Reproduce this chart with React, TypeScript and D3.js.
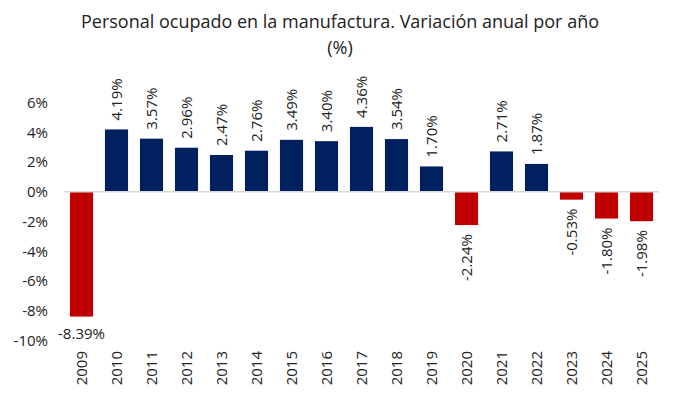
import React, { useEffect } from 'react';
import * as d3 from 'd3';

const years = ['2009', '2010', '2011', '2012', '2013', '2014', '2015', '2016', '2017',
    '2018', '2019', '2020', '2021', '2022', '2023', '2024', '2025'];
const values = [-8.39, 4.19, 3.57, 2.96, 2.47, 2.76, 3.49, 3.40, 4.36, 3.54, 1.70,
    -2.24, 2.71, 1.87, -0.53, -1.80, -1.98];
const yTicks = [6, 4, 2, 0, -2, -4, -6, -8, -10];

const width = 680;
const height = 407;
const font = '"Open Sans", sans-serif';

export default function App() {
    useEffect(() => {
        document.body.style.margin = '0';
    }, []);

    const x = d3.scaleBand().domain(years).range([64, 659]).paddingInner(0.34).paddingOuter(0.17);
    const y = d3.scaleLinear().domain([-10, 6]).range([340.5, 102.5]);
    const fmt = (v: number) => v.toFixed(2) + '%';

    return (
        <svg width={width} height={height} style={{ display: 'block', background: '#fff' }}>
            <text x={340} y={28} textAnchor="middle" fontFamily={font} fontSize={18} fill="#222">
                Personal ocupado en la manufactura. Variación anual por año
            </text>
            <text x={340} y={54} textAnchor="middle" fontFamily={font} fontSize={18} fill="#222">(%)</text>

            {/* y axis labels */}
            {yTicks.map(t => (
                <text key={t} x={48} y={y(t)} dy="0.35em" textAnchor="end" fontFamily={font} fontSize={15} fill="#222">
                    {t}%
                </text>
            ))}

            {/* bars */}
            {values.map((v, i) => (
                <rect key={years[i]} x={x(years[i])} width={x.bandwidth()}
                    y={Math.min(y(v), y(0))} height={Math.abs(y(v) - y(0))}
                    fill={v < 0 ? '#C00000' : '#002060'} />
            ))}

            {/* zero line */}
            <line x1={64} x2={659} y1={y(0)} y2={y(0)} stroke="#d9d9d9" strokeWidth={1.5} />

            {/* value labels */}
            {values.map((v, i) => {
                const cx = (x(years[i]) ?? 0) + x.bandwidth() / 2;
                if (i === 0) {
                    return (
                        <text key={'l' + i} x={cx} y={y(v) + 22} textAnchor="middle" fontFamily={font} fontSize={15} fill="#222">
                            {fmt(v)}
                        </text>
                    );
                }
                const ly = v >= 0 ? y(v) - 9 : y(v) + 9;
                return (
                    <text key={'l' + i} transform={`translate(${cx},${ly}) rotate(-90)`}
                        textAnchor={v >= 0 ? 'start' : 'end'} dy="0.35em"
                        fontFamily={font} fontSize={15} fill="#222">
                        {fmt(v)}
                    </text>
                );
            })}

            {/* year labels */}
            {years.map(yr => (
                <text key={yr} transform={`translate(${(x(yr) ?? 0) + x.bandwidth() / 2},${351}) rotate(-90)`}
                    textAnchor="end" dy="0.35em" fontFamily={font} fontSize={15} fill="#222">
                    {yr}
                </text>
            ))}
        </svg>
    );
}
